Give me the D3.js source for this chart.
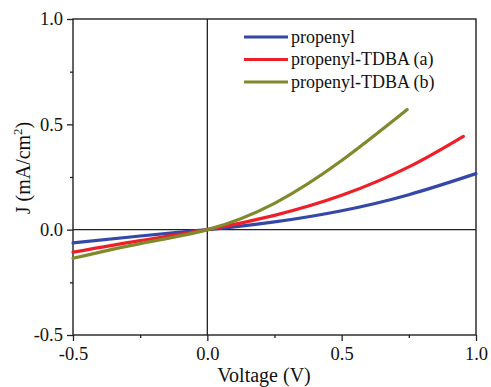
<!DOCTYPE html>
<html>
<head>
<meta charset="utf-8">
<script src="https://cdn.jsdelivr.net/npm/d3@7"></script>
<style>
  body { margin: 0; background: #fff; }
  text { font-family: "Liberation Serif", "Times New Roman", serif; fill: #111; }
</style>
</head>
<body>
<svg width="491" height="387"></svg>
<script>
// data
var seriesNames = ["propenyl", "propenyl-TDBA (a)", "propenyl-TDBA (b)"];
var seriesColors = ["#3548a8", "#f01e26", "#80892c"];

var vBlue = [-0.5, -0.25, 0, 0.25, 0.5, 0.75, 1.0];
var jBlue = [-0.063, -0.030, 0, 0.037, 0.090, 0.166, 0.266];

var vRed = [-0.5, -0.25, 0, 0.25, 0.5, 0.75, 0.953];
var jRed = [-0.107, -0.052, 0, 0.068, 0.163, 0.298, 0.443];

var vOlive = [-0.5, -0.25, 0, 0.25, 0.5, 0.744];
var jOlive = [-0.136, -0.066, 0, 0.125, 0.328, 0.57];

var xTicks = [-0.5, 0.0, 0.5, 1.0];
var yTicks = [-0.5, 0.0, 0.5, 1.0];
var xMinor = [-0.25, 0.25, 0.75];
var yMinor = [-0.25, 0.25, 0.75];

var svg = d3.select("svg"),
    pLeft = 73, pRight = 476, pTop = 19, pBottom = 335;

var x = d3.scaleLinear().domain([-0.5, 1.0]).range([pLeft, pRight]);
var y = d3.scaleLinear().domain([-0.5, 1.0]).range([pBottom, pTop]);
var fmt = d3.format(".1f");
var fmtTick = function(d) { return fmt(d).replace("\u2212", "-"); };

// frame
svg.append("rect")
  .attr("x", pLeft).attr("y", pTop)
  .attr("width", pRight - pLeft).attr("height", pBottom - pTop)
  .attr("fill", "none").attr("stroke", "#222").attr("stroke-width", 1.4);

// zero lines
svg.append("line")
  .attr("x1", x(0)).attr("x2", x(0)).attr("y1", pTop).attr("y2", pBottom)
  .attr("stroke", "#222").attr("stroke-width", 1.3);
svg.append("line")
  .attr("x1", pLeft).attr("x2", pRight).attr("y1", y(0)).attr("y2", y(0))
  .attr("stroke", "#222").attr("stroke-width", 1.3);

// axes
svg.append("g")
  .attr("transform", "translate(0," + pBottom + ")")
  .call(d3.axisBottom(x).tickValues(xTicks).tickFormat(fmtTick).tickSize(6).tickPadding(6));
svg.append("g")
  .attr("transform", "translate(0," + pBottom + ")")
  .call(d3.axisBottom(x).tickValues(xMinor).tickFormat("").tickSize(3));

svg.append("g")
  .attr("transform", "translate(" + pLeft + ",0)")
  .call(d3.axisLeft(y).tickValues(yTicks).tickFormat(fmtTick).tickSize(6).tickPadding(4));
svg.append("g")
  .attr("transform", "translate(" + pLeft + ",0)")
  .call(d3.axisLeft(y).tickValues(yMinor).tickFormat("").tickSize(3));

svg.selectAll(".domain").remove();
svg.selectAll(".tick line").attr("stroke", "#222").attr("stroke-width", 1.3);
svg.selectAll(".tick text")
  .style("font-family", "Liberation Serif, serif")
  .style("font-size", "18.5px").attr("fill", "#111");

// axis titles
svg.append("text")
  .attr("x", 264).attr("y", 382)
  .attr("text-anchor", "middle")
  .style("font-size", "20px")
  .text("Voltage (V)");

var yt = svg.append("text")
  .attr("transform", "translate(30,168) rotate(-90)")
  .attr("text-anchor", "middle")
  .style("font-size", "20px");
yt.append("tspan").text("J (mA/cm");
yt.append("tspan").attr("dy", -8).style("font-size", "13px").text("2");
yt.append("tspan").attr("dy", 8).text(")");

// curves
var allV = [vBlue, vRed, vOlive], allJ = [jBlue, jRed, jOlive];
var line = d3.line()
  .x(function(d) { return x(d[0]); })
  .y(function(d) { return y(d[1]); })
  .curve(d3.curveNatural);

allV.forEach(function(vs, i) {
  var pts = vs.map(function(v, k) { return [v, allJ[i][k]]; });
  svg.append("path")
    .datum(pts)
    .attr("d", line)
    .attr("fill", "none")
    .attr("stroke", seriesColors[i])
    .attr("stroke-width", 3.2)
    .attr("stroke-linecap", "round");
});

// legend
var legend = svg.append("g").attr("transform", "translate(244,37)");
seriesNames.forEach(function(name, i) {
  var row = legend.append("g").attr("transform", "translate(0," + (i * 22.5) + ")");
  row.append("line")
    .attr("x1", 0).attr("x2", 44).attr("y1", 0).attr("y2", 0)
    .attr("stroke", seriesColors[i]).attr("stroke-width", 3.2);
  row.append("text")
    .attr("x", 47).attr("y", 5.5)
    .style("font-size", "18px")
    .text(name);
});
</script>
</body>
</html>
